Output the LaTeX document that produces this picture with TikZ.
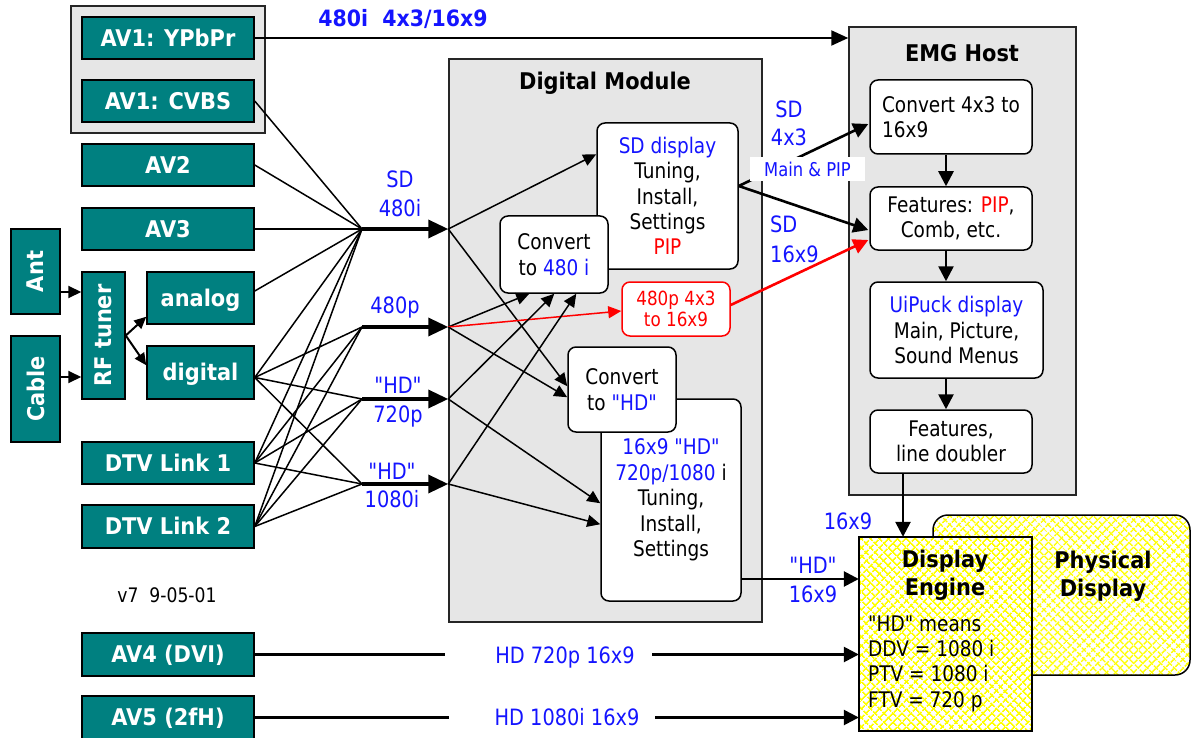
\documentclass[tikz,border=0pt]{standalone}
\usepackage{fontspec}
\usepackage{graphicx}
\setmainfont{DejaVu Sans}[FakeStretch=0.86]
\newfontfamily\bff{DejaVu Sans}[FakeStretch=0.91]
\font\dqR="DejaVu Sans:extend=0.86" at 21.5pt
\font\dqL="DejaVu Sans:extend=0.86" at 22.5pt
\newcommand{\dq}{{\dqR\char34}}
\newcommand{\dql}{{\dqL\char34}}
\usetikzlibrary{arrows.meta,patterns.meta,calc}
\definecolor{tealc}{RGB}{0,128,128}
\definecolor{gboxc}{RGB}{230,230,230}
\definecolor{tblue}{RGB}{20,20,255}
\definecolor{tred}{RGB}{255,0,0}
\definecolor{hatchc}{RGB}{255,255,0}
\newcommand{\fR}{\fontsize{21.5}{25.4}\selectfont}
\newcommand{\fB}{\bff\bfseries\fontsize{23}{28}\selectfont}
\newcommand{\fL}{\fontsize{22.5}{29}\selectfont}
\newcommand{\fS}{\fontsize{19.5}{21}\selectfont}
\tikzset{
 tealbox/.style={draw=black, line width=1.5pt, fill=tealc, text=white, inner sep=0pt, font=\fB, text height=16.8pt, text depth=0pt},
 tealboxr/.style={draw=black, line width=1.5pt, fill=tealc, text=white, inner sep=0pt, font=\fB},
 graybox/.style={draw=black!85, line width=1.5pt, fill=gboxc, inner sep=0pt},
 wbox/.style={draw=black, line width=1.5pt, fill=white, rounded corners=8pt, inner sep=0pt, align=center, font=\fR},
 conn/.style={line width=1.5pt},
 arr/.style={line width=1.5pt, -{Triangle[length=13pt,width=12pt]}},
 hubarr/.style={line width=3.5pt, -{Triangle[length=20pt,width=18pt]}},
 farr/.style={line width=2.6pt, -{Triangle[length=15pt,width=15pt]}},
 lbl/.style={text=tblue, font=\fL, inner sep=0pt, anchor=base},
 hatchbox/.style={fill=white, inner sep=0pt,
   postaction={pattern={Lines[angle=45,distance=6.5pt,line width=1.7pt]}, pattern color=hatchc},
   postaction={pattern={Lines[angle=-45,distance=6.5pt,line width=1.7pt]}, pattern color=hatchc},
   postaction={draw=black, line width=1.5pt}},
}
\begin{document}
\begin{tikzpicture}[x=1pt,y=-1pt]
\useasboundingbox (0,0) rectangle (1191,738);

% ---------- left inputs
\node[graybox, minimum width=194pt, minimum height=127pt] (grp) at (168,69.5) {};
\node[tealbox, minimum width=172pt, minimum height=42pt] (ypbpr) at (168,38) {AV1: YPbPr};
\node[tealbox, minimum width=172pt, minimum height=42pt] (cvbs) at (168,101) {AV1: CVBS};
\node[tealbox, minimum width=172pt, minimum height=42pt] (av2) at (168,165) {AV2};
\node[tealbox, minimum width=172pt, minimum height=42pt] (av3) at (168,229) {AV3};
\node[tealboxr, minimum width=49pt, minimum height=85pt] (ant) at (35.5,271.5) {\rotatebox{90}{Ant}};
\node[tealboxr, minimum width=49pt, minimum height=106pt] (cable) at (35.5,389) {\rotatebox{90}{Cable}};
\node[tealboxr, minimum width=43pt, minimum height=127pt] (rf) at (103.5,335.5) {\rotatebox{90}{RF tuner}};
\node[tealbox, minimum width=107pt, minimum height=52pt] (analog) at (200.5,298) {analog};
\node[tealbox, minimum width=107pt, minimum height=53pt] (digital) at (200.5,372.5) {digital};
\node[tealbox, minimum width=172pt, minimum height=42pt] (dtv1) at (168,463) {DTV Link 1};
\node[tealbox, minimum width=172pt, minimum height=43pt] (dtv2) at (168,526.5) {DTV Link 2};
\node[tealbox, minimum width=172pt, minimum height=43pt] (av4) at (168,654.5) {AV4 (DVI)};
\node[tealbox, minimum width=172pt, minimum height=43pt] (av5) at (168,717.5) {AV5 (2fH)};
\node[font=\fontsize{20}{24}\selectfont, anchor=base, inner sep=0pt] (ver) at (167,602) {v7\ \ 9-05-01};

% ant/cable -> rf -> analog/digital
\coordinate (a1) at ($(ant.east)+(0,20.5)$);
\coordinate (a2) at ($(cable.east)+(0,-12)$);
\draw[line width=2pt, -{Triangle[length=13pt,width=12pt]}] (a1) -- (a1 -| rf.west);
\draw[line width=2pt, -{Triangle[length=13pt,width=12pt]}] (a2) -- (a2 -| rf.west);
\draw[line width=2pt, -{Triangle[length=12pt,width=11pt]}] (rf.east) -- ($(analog.south west)+(0,-8)$);
\draw[line width=2pt, -{Triangle[length=12pt,width=11pt]}] (rf.east) -- ($(digital.north west)+(0,20)$);

% ---------- Digital Module
\node[graybox, minimum width=313pt, minimum height=563pt] (dm) at (605.5,340.5) {};
\node[font=\fB, anchor=base, inner sep=0pt] (dmt) at (605,90) {Digital Module};
\node[wbox, minimum width=141pt, minimum height=146pt] (sdd) at (667.5,196) {\textcolor{tblue}{SD display}\\Tuning,\\Install,\\Settings\\\textcolor{tred}{PIP}};
\node[wbox, minimum width=108pt, minimum height=77pt] (conv480) at (554,254.5) {Convert\\to \textcolor{tblue}{480 i}};
\node[wbox, draw=tred, text=tred, font=\fS, minimum width=108pt, minimum height=54pt] (redbox) at (676,309) {480p 4x3\\to 16x9};
\node[wbox, minimum width=140pt, minimum height=202pt] (hd169) at (671,500) {\textcolor{tblue}{16x9 \dq HD\dq}\\\textcolor{tblue}{720p/1080} i\\Tuning,\\Install,\\Settings};
\node[wbox, minimum width=108pt, minimum height=85pt] (convHD) at (622,389.5) {Convert\\to \textcolor{tblue}{\dq HD\dq}};

% ---------- hubs
\coordinate (h1) at (362,229);
\coordinate (h2) at (362,327);
\coordinate (h3) at (362,399);
\coordinate (h4) at (362,484);
\foreach \s in {cvbs,av2,av3} \draw[conn] (\s.east) -- (h1);
\draw[conn] ([yshift=7pt]analog.east) -- (h1);
\foreach \s/\sh in {digital/-5pt,dtv1/0pt,dtv2/0pt}
  \foreach \h in {h1,h2,h3,h4}
    \draw[conn] ([yshift=\sh]\s.east) -- (\h);
\coordinate (e1) at (h1 -| dm.west);
\coordinate (e2) at (h2 -| dm.west);
\coordinate (e3) at (h3 -| dm.west);
\coordinate (e4) at (h4 -| dm.west);
\draw[hubarr] (h1) -- (e1);
\draw[hubarr] (h2) -- (e2);
\draw[hubarr] (h3) -- (e3);
\draw[hubarr] (h4) -- (e4);

\node[lbl] (s1) at (400,188) {SD};
\node[lbl] (s2) at (400,217) {480i};
\node[lbl] (s3) at (395,313) {480p};
\node[lbl] (s4) at (398,393) {\dql HD\dql};
\node[lbl] (s5) at (398,422) {720p};
\node[lbl] (s6) at (392,479) {\dql HD\dql};
\node[lbl] (s7) at (392,507) {1080i};

% ---------- inside digital module
\draw[arr] (e1) -- ($(sdd.north west)+(0,32)$);
\draw[arr] (e1) -- ($(convHD.north west)+(0,40)$);
\draw[arr] (e2) -- ($(conv480.south west)+(30,0)$);
\draw[arr, draw=tred, fill=tred] (e2) -- ($(redbox.west)+(0,2)$);
\draw[arr] (e2) -- ($(convHD.north west)+(0,51)$);
\draw[arr] (e3) -- ($(conv480.south west)+(55,0)$);
\draw[arr] (e3) -- ($(hd169.north west)+(0,105)$);
\draw[arr] (e4) -- ($(conv480.south west)+(77,0)$);
\draw[arr] (e4) -- ($(hd169.north west)+(0,126)$);

% ---------- EMG host
\node[graybox, minimum width=227pt, minimum height=468pt] (emg) at (962.5,261) {};
\node[font=\fB, anchor=base, inner sep=0pt] (emgt) at (962,62) {EMG Host};
\node[wbox, align=left, minimum width=162pt, minimum height=74pt] (c43) at (951,117) {Convert 4x3 to\\16x9};
\node[wbox, minimum width=162pt, minimum height=63pt] (feat) at (951,218.5) {Features: \textcolor{tred}{PIP},\\Comb, etc.};
\node[wbox, minimum width=173pt, minimum height=96pt] (uipuck) at (956.5,330) {\textcolor{tblue}{UiPuck display}\\Main, Picture,\\Sound Menus};
\node[wbox, minimum width=162pt, minimum height=63pt] (feat2) at (951,441.5) {Features,\\line doubler};
\coordinate (ax) at (946,0);
\draw[farr] (c43.south -| ax) -- (feat.north -| ax);
\draw[farr] (feat.south -| ax) -- (uipuck.north -| ax);
\draw[farr] (uipuck.south -| ax) -- (feat2.north -| ax);

% ypbpr to EMG
\draw[line width=2.2pt, -{Triangle[length=17pt,width=15pt]}] (ypbpr.east) -- (ypbpr.east -| emg.west);
\node[text=tblue, font=\bff\bfseries\fontsize{22.5}{26}\selectfont, anchor=base, inner sep=0pt] (l0) at (403,27) {480i\ \ 4x3/16x9};

% SD display -> EMG
\coordinate (sdp) at ($(sdd.east)+(0,-10)$);
\draw[farr] (sdp) -- ($(c43.west)+(-1,7)$);
\draw[farr] (sdp) -- ($(feat.west)+(-1,11.5)$);
\draw[farr, draw=tred, fill=tred] ($(redbox.east)+(0,-4)$) -- ($(feat.west)+(-1,21.5)$);
\node[fill=white, inner sep=0pt, minimum width=115pt, minimum height=24pt, text=tblue, font=\fontsize{19}{22}\selectfont] (mp) at (807.5,169) {Main \& PIP};
\node[lbl] (s8) at (789,118) {SD};
\node[lbl] (s9) at (789,146) {4x3};
\node[lbl, anchor=base west] (s10) at (770,233) {SD};
\node[lbl, anchor=base west] (s11) at (770,262) {16x9};

% ---------- displays
\node[hatchbox, rounded corners=15pt, minimum width=257pt, minimum height=160pt] (phys) at (1061.5,595) {};
\node[font=\fB, align=center, inner sep=0pt] (ptxt) at (1103,576) {Physical\\Display};
\node[hatchbox, minimum width=173pt, minimum height=194pt] (deng) at (945.5,634) {};
\node[font=\fB, align=center, inner sep=0pt] (dtitle) at (945,575) {Display\\Engine};
\node[font=\fR, align=left, anchor=west, inner sep=0pt] (dtext) at (868,663.5) {\dq HD\dq{} means\\DDV = 1080 i\\PTV = 1080 i\\FTV = 720 p};

\coordinate (dx) at (903,0);
\draw[farr] (feat2.south -| dx) -- (deng.north -| dx);
\node[lbl] (s12) at (848,529) {16x9};
\coordinate (hdo) at ($(hd169.east)+(0,79)$);
\draw[farr] (hdo) -- (hdo -| deng.west);
\node[lbl] (s13) at (813,573) {\dql HD\dql};
\node[lbl] (s14) at (813,602) {16x9};

% ---------- AV4 / AV5
\coordinate (g4a) at (445,654.5);
\coordinate (g4b) at (652,654.5);
\draw[line width=2.5pt] (av4.east) -- (g4a);
\draw[farr] (g4b) -- (g4b -| deng.west);
\node[lbl] (t4) at (565,663) {HD 720p 16x9};
\coordinate (g5a) at (449,717.5);
\coordinate (g5b) at (655,717.5);
\draw[line width=2.5pt] (av5.east) -- (g5a);
\draw[farr] (g5b) -- (g5b -| deng.west);
\node[lbl] (t5) at (567,725) {HD 1080i 16x9};
\end{tikzpicture}
\end{document}
